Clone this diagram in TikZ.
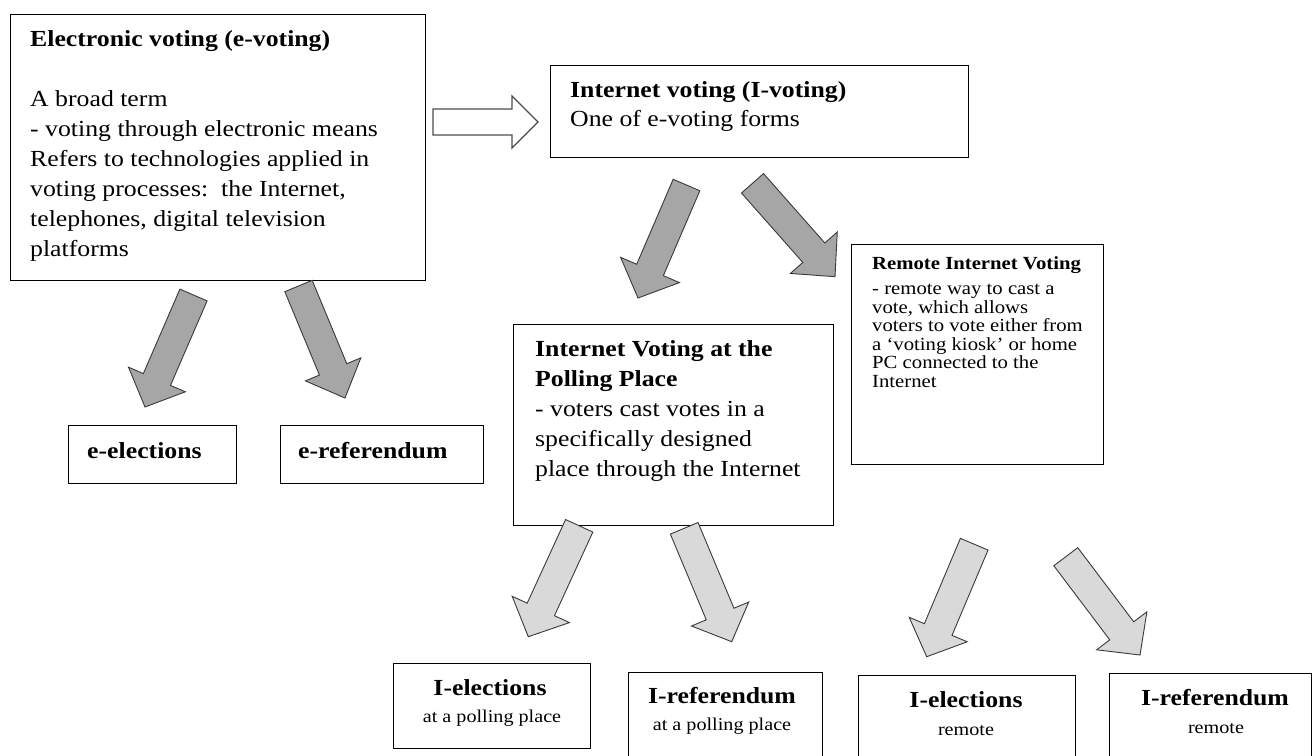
\documentclass[tikz,border=0pt]{standalone}
\usepackage{fontspec}
\setmainfont[FakeStretch=1.12]{Liberation Serif}
\usetikzlibrary{calc}
\definecolor{darkfill}{HTML}{A6A6A6}
\definecolor{lightfill}{HTML}{D9D9D9}
\definecolor{arrowline}{HTML}{3A3A3A}
\tikzset{
  box/.style={draw=black, line width=1.2pt, fill=white, inner sep=0pt, anchor=north west},
  darkarrow/.style={draw=arrowline, line width=0.9pt, fill=darkfill, line join=miter},
  lightarrow/.style={draw=arrowline, line width=0.9pt, fill=lightfill, line join=miter},
  hollowarrow/.style={draw=black!70, line width=1.4pt, fill=white, line join=miter},
  txt/.style={inner sep=0pt, anchor=base west, align=left, font=\fontsize{23}{30}\selectfont},
  smalltxt/.style={inner sep=0pt, anchor=base west, align=left, font=\fontsize{18.5}{18.5}\selectfont},
  ctitle/.style={inner sep=0pt, anchor=base, font=\fontsize{23}{27}\selectfont\bfseries},
  csub/.style={inner sep=0pt, anchor=base, font=\fontsize{18}{22}\selectfont},
}
% #1 style, #2 name, #3 tail, #4 tip, #5 shaft half width, #6 head half width, #7 head length
\newcommand{\blockarr}[7]{%
  \coordinate (#2t) at (#3);
  \coordinate (#2p) at (#4);
  \coordinate (#2h) at ($(#2p)!#7!(#2t)$);
  \draw[#1] ($(#2t)!#5!90:(#2p)$) -- ($(#2h)!#5!90:(#2p)$) -- ($(#2h)!#6!90:(#2p)$)
    -- (#2p) -- ($(#2h)!#6!-90:(#2p)$) -- ($(#2h)!#5!-90:(#2p)$) -- ($(#2t)!#5!-90:(#2p)$) -- cycle;
}
\begin{document}
\begin{tikzpicture}[x=1pt,y=-1pt]
\useasboundingbox (0,0) rectangle (1314,755);
\clip (0,0) rectangle (1314,755);
\fill[white] (0,0) rectangle (1314,755);

% boxes
\node[box, minimum width=415pt, minimum height=266pt] (evote) at (10,14) {};
\node[box, minimum width=418pt, minimum height=92pt] (ivote) at (550,65) {};
\node[box, minimum width=252pt, minimum height=220pt] (remote) at (851,244) {};
\node[box, minimum width=320pt, minimum height=201pt] (polling) at (513,324) {};
\node[box, minimum width=168pt, minimum height=58pt] (eel) at (68,425) {};
\node[box, minimum width=203pt, minimum height=58pt] (eref) at (280,425) {};
\node[box, minimum width=197pt, minimum height=85pt] (iep) at (393,663) {};
\node[box, minimum width=194pt, minimum height=90pt] (irp) at (628,672) {};
\node[box, minimum width=217pt, minimum height=88pt] (ier) at (858,675) {};
\node[box, minimum width=202pt, minimum height=90pt] (irr) at (1109,673) {};

% texts (anchor = baseline of the last line)
\node[txt] (tevote) at (30,256) {\textbf{Electronic voting (e-voting)}\\[30pt]A broad term\\- voting through electronic means\\Refers to technologies applied in\\voting processes:\ \ the Internet,\\telephones, digital television\\platforms};
\node[txt, font=\fontsize{23}{29}\selectfont] (tivote) at (570,126) {\textbf{Internet voting (I-voting)}\\One of e-voting forms};
\node[txt] (tpolling) at (535,476) {\textbf{Internet Voting at the}\\\textbf{Polling Place}\\- voters cast votes in a\\specifically designed\\place through the Internet};
\node[smalltxt] (tremote) at (872,387) {\textbf{Remote Internet Voting}\\[6.5pt]- remote way to cast a\\vote, which allows\\voters to vote either from\\a ‘voting kiosk’ or home\\PC connected to the\\Internet};
\node[txt] (teel) at (87,458) {\textbf{e-elections}};
\node[txt] (teref) at (298,458) {\textbf{e-referendum}};
\node[ctitle] (tiep) at (490,695) {I-elections};
\node[csub] (siep) at (492,722) {at a polling place};
\node[ctitle] (tirp) at (722,703) {I-referendum};
\node[csub] (sirp) at (722,730) {at a polling place};
\node[ctitle] (tier) at (966,707) {I-elections};
\node[csub] (sier) at (966,735) {remote};
\node[ctitle] (tirr) at (1215,705) {I-referendum};
\node[csub] (sirr) at (1216,733) {remote};

% arrows
\blockarr{hollowarrow}{ha}{433,122}{538,122}{13pt}{26pt}{26pt}
\blockarr{darkarrow}{aa}{193.5,295}{145,407}{14.8pt}{31pt}{30pt}
\blockarr{darkarrow}{ab}{298.5,286}{345,398}{14.8pt}{30pt}{31pt}
\blockarr{darkarrow}{ac}{686.5,185}{638,298}{14.5pt}{32pt}{30.5pt}
\blockarr{darkarrow}{ad}{752.5,183.3}{835,276.7}{14.7pt}{31.3pt}{32pt}
\blockarr{lightarrow}{ae}{579.2,525.8}{528.3,636.7}{15pt}{31.5pt}{30pt}
\blockarr{lightarrow}{af}{684.2,528.3}{731.7,641.7}{15pt}{31pt}{30pt}
\blockarr{lightarrow}{ag}{974.2,544.2}{926.7,656.7}{15pt}{31.5pt}{29.5pt}
\blockarr{lightarrow}{ah}{1065.8,556.7}{1140,655}{15pt}{31.5pt}{30.3pt}
\end{tikzpicture}
\end{document}
